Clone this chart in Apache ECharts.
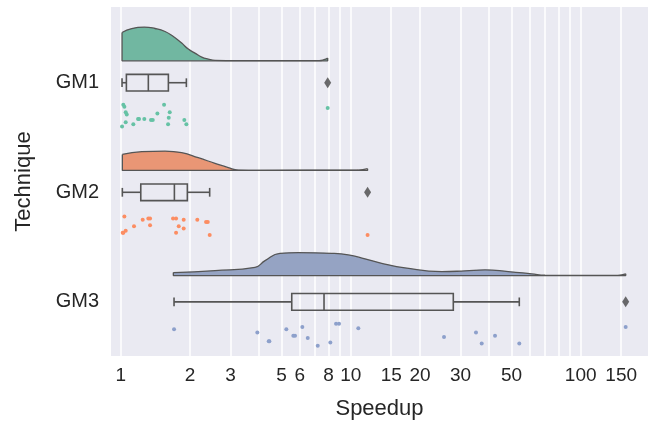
<!DOCTYPE html>
<html>
<head>
<meta charset="utf-8">
<script src="https://cdn.jsdelivr.net/npm/echarts@6/dist/echarts.min.js"></script>
<style>
  html, body { margin: 0; padding: 0; background: #fff; }
  #chart { width: 657px; height: 431px; }
</style>
</head>
<body>
<div id="chart"></div>
<script>
// categories on the y axis
const categories = ['GM1', 'GM2', 'GM3'];

// speedup of each run (strip points) and their vertical jitter within the row
const gm1Speedup = [1.026, 1.037, 1.051, 1.062, 1.051, 1.013, 1.134, 1.189, 1.201, 1.266, 1.354, 1.378, 1.443, 1.543, 1.617, 1.633, 1.606, 1.890, 1.929, 7.94];
const gm1Jitter = [0.20, 0.22, 0.27, 0.29, 0.36, 0.40, 0.38, 0.33, 0.33, 0.33, 0.34, 0.34, 0.28, 0.20, 0.32, 0.27, 0.38, 0.34, 0.38, 0.23];
const gm2Speedup = [1.037, 1.246, 1.318, 1.341, 1.688, 1.740, 1.878, 2.152, 2.349, 2.390, 1.142, 1.341, 1.787, 1.878, 1.051, 1.026, 1.020, 1.740, 2.437, 11.84];
const gm2Jitter = [0.22, 0.25, 0.24, 0.24, 0.24, 0.24, 0.25, 0.25, 0.27, 0.27, 0.31, 0.30, 0.31, 0.33, 0.35, 0.37, 0.37, 0.37, 0.39, 0.39];
const gm3Speedup = [1.705, 3.926, 4.401, 4.428, 5.248, 5.628, 5.725, 6.160, 6.502, 7.187, 8.153, 8.633, 8.896, 10.79, 25.45, 35.05, 37.12, 42.41, 54.08, 156.9];
const gm3Jitter = [0.25, 0.28, 0.36, 0.36, 0.25, 0.31, 0.31, 0.23, 0.33, 0.40, 0.37, 0.20, 0.20, 0.24, 0.32, 0.28, 0.38, 0.31, 0.38, 0.23];

// box stats: [whisker low, q1, median, q3, whisker high]
const gm1Box = [1.013, 1.058, 1.318, 1.611, 1.929];
const gm2Box = [1.016, 1.222, 1.711, 1.948, 2.436];
const gm3Box = [1.705, 5.541, 7.655, 27.93, 54.08];
const outliers = [7.94, 11.84, 156.9];

// half violin profiles: [speedup, density]
const gm1Kde = [[1.013, 28.3], [1.116, 32.3], [1.266, 33.7], [1.41, 32.3], [1.558, 29.3], [1.693, 24.3], [1.841, 17.7], [1.967, 11.7], [2.102, 7.7], [2.25, 3.7], [2.403, 1.7], [2.57, 0.5], [3.2, 0.1], [7.3, 0.2], [7.65, 1.1], [7.94, 2.7]];
const gm2Kde = [[1.016, 16], [1.234, 18.7], [1.558, 19.3], [1.841, 17.7], [2.173, 12.7], [2.57, 7], [2.936, 2.7], [3.245, 0.3], [4, 0.1], [10.5, 0.2], [11.3, 0.8], [11.84, 1.7]];
const gm3Kde = [[1.693, 3], [2.57, 5], [3.837, 8.3], [4.241, 15], [4.927, 22.3], [5.918, 23], [8.268, 22.3], [9.763, 20.7], [11.54, 16.7], [13.64, 12.3], [17.22, 7.7], [24.87, 4], [31.4, 4.7], [38.37, 5.7], [48.44, 4], [61.2, 1.7], [69.96, 0.3], [100, 0.1], [145, 0.2], [157, 1.7]];

// axis ticks
const gridTicks = [1, 2, 3, 4, 5, 6, 7, 8, 9, 10, 15, 20, 30, 40, 50, 60, 70, 80, 90, 100, 150];
const labelTicks = [1, 2, 3, 5, 6, 8, 10, 15, 20, 30, 50, 100, 150];

const font = 'Liberation Sans, Arial, sans-serif';
const lineGray = '#555555';
const pointColors = ['#66c2a5', '#fc8d62', '#8da0cb'];
const fillColors = ['#71b7a1', '#e99675', '#95a3c3'];
const violinOffset = [0.2, 0.2, 0.24];
const densityScale = 1 / 109.6;

const strips = [[gm1Speedup, gm1Jitter], [gm2Speedup, gm2Jitter], [gm3Speedup, gm3Jitter]];
const boxes = [gm1Box, gm2Box, gm3Box];
const kdes = [gm1Kde, gm2Kde, gm3Kde];

let series = [];

kdes.forEach((kde, i) => {
  const base = i - violinOffset[i];
  const first = kde[0], last = kde[kde.length - 1];
  // curved top of the half violin, filled down to its baseline
  series.push({
    type: 'line',
    data: kde.map(p => [p[0], base - p[1] * densityScale]),
    smooth: 0.5,
    showSymbol: false,
    silent: true,
    z: 3,
    lineStyle: { color: lineGray, width: 1.3 },
    areaStyle: { color: fillColors[i], opacity: 1, origin: base }
  });
  // straight edges: left side, baseline, right side
  series.push({
    type: 'line',
    data: [
      [first[0], base - first[1] * densityScale],
      [first[0], base],
      [last[0], base],
      [last[0], base - last[1] * densityScale]
    ],
    showSymbol: false,
    silent: true,
    z: 4,
    lineStyle: { color: lineGray, width: 1.3 }
  });
});

series.push({
  type: 'custom',
  silent: true,
  z: 5,
  encode: { x: [1, 2, 3, 4, 5], y: 0 },
  data: boxes.map((b, i) => [i].concat(b)),
  renderItem: function (params, api) {
    const c = api.value(0);
    const lo = api.value(1), q1 = api.value(2), med = api.value(3), q3 = api.value(4), hi = api.value(5);
    const h = 0.076, cap = 0.04;
    const st = { stroke: lineGray, lineWidth: 1.6, fill: null };
    const a = api.coord([q1, c - h]);
    const b = api.coord([q3, c + h]);
    const line = (x1, y1, x2, y2) => {
      const p1 = api.coord([x1, y1]), p2 = api.coord([x2, y2]);
      return { type: 'line', shape: { x1: p1[0], y1: p1[1], x2: p2[0], y2: p2[1] }, style: st };
    };
    return {
      type: 'group',
      children: [
        { type: 'rect', shape: { x: a[0], y: Math.min(a[1], b[1]), width: b[0] - a[0], height: Math.abs(b[1] - a[1]) }, style: st },
        line(med, c - h, med, c + h),
        line(lo, c, q1, c),
        line(q3, c, hi, c),
        line(lo, c - cap, lo, c + cap),
        line(hi, c - cap, hi, c + cap)
      ]
    };
  }
});

series.push({
  type: 'scatter',
  symbol: 'diamond',
  symbolSize: [7, 11],
  silent: true,
  z: 6,
  itemStyle: { color: '#474747' },
  data: outliers.map((v, i) => [v, i])
});

strips.forEach((s, i) => {
  series.push({
    type: 'scatter',
    symbolSize: 4,
    silent: true,
    z: 6,
    itemStyle: { color: pointColors[i], opacity: 1 },
    data: s[0].map((v, k) => [v, i + s[1][k]])
  });
});

const chart = echarts.init(document.getElementById('chart'));
chart.setOption({
  animation: false,
  backgroundColor: '#ffffff',
  grid: { left: 111, right: 9, top: 7, bottom: 75, show: true, backgroundColor: '#eaeaf2', borderWidth: 0 },
  xAxis: {
    type: 'log',
    logBase: 10,
    min: 0.907,
    max: 196.2,
    name: 'Speedup',
    nameLocation: 'middle',
    nameGap: 42,
    nameTextStyle: { fontSize: 22, color: '#262626', fontFamily: font },
    axisLine: { show: false },
    axisTick: { show: false, customValues: gridTicks },
    splitLine: { show: true, lineStyle: { color: '#ffffff', width: 1.5 } },
    axisLabel: {
      customValues: labelTicks,
      fontSize: 19,
      color: '#262626',
      fontFamily: font,
      margin: 10,
      formatter: v => String(+(+v).toPrecision(4))
    }
  },
  yAxis: {
    type: 'value',
    inverse: true,
    min: -0.691,
    max: 2.494,
    name: 'Technique',
    nameLocation: 'middle',
    nameGap: 76,
    nameTextStyle: { fontSize: 22, color: '#262626', fontFamily: font },
    axisLine: { show: false },
    axisTick: { show: false },
    splitLine: { show: false },
    axisLabel: {
      customValues: [0, 1, 2],
      fontSize: 20,
      color: '#262626',
      fontFamily: font,
      margin: 12,
      formatter: v => categories[Math.round(v)]
    }
  },
  series: series
});
</script>
</body>
</html>
